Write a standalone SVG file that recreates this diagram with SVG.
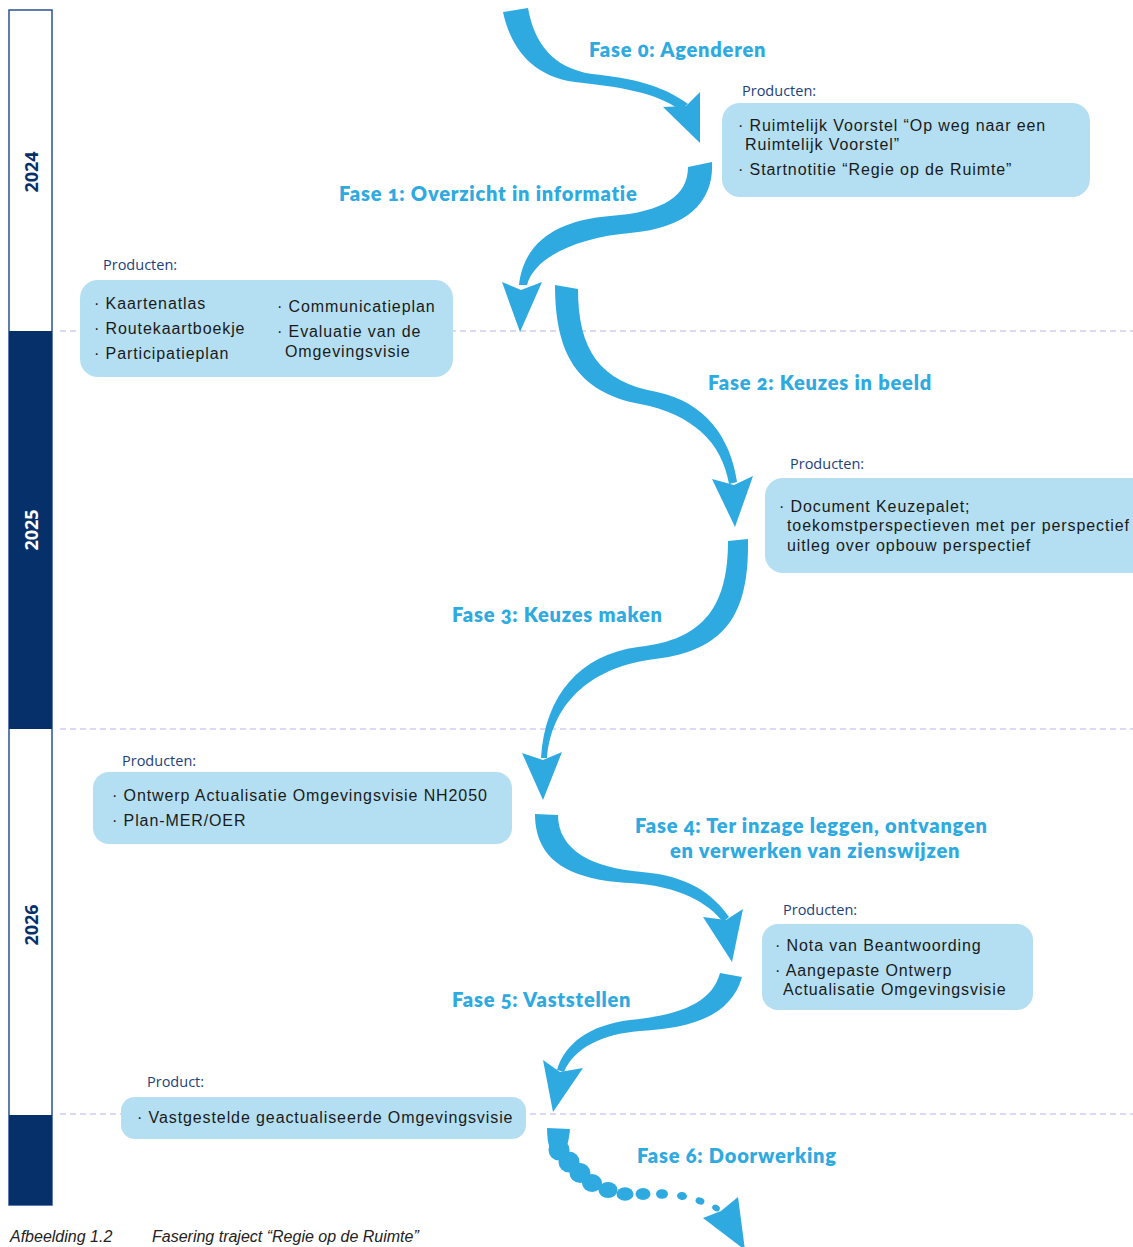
<svg xmlns="http://www.w3.org/2000/svg" width="1133" height="1247" viewBox="0 0 1133 1247">
<style>
.arrow{fill:#2eaae1}
.box{fill:#b4dff2}
.title{font-family:"Lato","Open Sans",sans-serif;font-weight:800;font-size:20px;letter-spacing:0.8px;fill:#2eaae1;font-variant-numeric:oldstyle-nums}
.prod{font-family:"Open Sans","Noto Sans",sans-serif;font-size:14.5px;fill:#1c3f7a}
.item{font-family:"Liberation Sans","Arial",sans-serif;font-size:16px;letter-spacing:0.9px;fill:#1a1a1a}
.year{font-family:"Open Sans","Noto Sans",sans-serif;font-weight:700;font-size:18px}
.grid{stroke:#cfcdef;stroke-width:1.3;stroke-dasharray:6 4;fill:none}
.cap{font-family:"Liberation Sans",sans-serif;font-style:italic;font-size:16px;fill:#222}
</style>

<g id="timeline">
<rect x="9" y="10" width="43" height="1195" fill="#ffffff" stroke="#2b5391" stroke-width="1.5"/>
<rect x="9" y="331" width="43" height="398" fill="#06306a"/>
<rect x="9" y="1115" width="43" height="90" fill="#06306a"/>
<text class="year" fill="#06306a" transform="translate(38,172) rotate(-90)" text-anchor="middle">2024</text>
<text class="year" fill="#ffffff" transform="translate(38,530) rotate(-90)" text-anchor="middle">2025</text>
<text class="year" fill="#06306a" transform="translate(38,925) rotate(-90)" text-anchor="middle">2026</text>
</g>

<g id="gridlines">
<line class="grid" x1="60" y1="331" x2="1133" y2="331"/>
<line class="grid" x1="60" y1="729" x2="1133" y2="729"/>
<line class="grid" x1="60" y1="1114" x2="1133" y2="1114"/>
</g>

<g id="connectors">
<g id="arrow0" class="arrow">
<path d="M503,12 C510,45 530,76 575,82 C620,87 655,92 680,110 L688,104 C662,85 632,78 592,74 C552,68 534,42 528,8 Z"/>
<path d="M663,107 L686,106 L700,92 L700,143 Z"/>
</g>
<g id="arrow1" class="arrow">
<path d="M712,162 C714,200 690,228 630,233 C582,237 535,255 527,285 L519,285 C524,240 560,220 610,216 C665,212 688,195 688,167 Z"/>
<path d="M502,282 L521,290 L542,282 L520,332 Z"/>
</g>
<g id="arrow2" class="arrow">
<path d="M555,285 C555,352 576,392 640,404 C692,414 722,442 729,484 L737,482 C731,438 705,402 657,392 C600,382 578,350 578,289 Z"/>
<path d="M712,479 L734,485 L753,476 L735,527 Z"/>
</g>
<g id="arrow3" class="arrow">
<path d="M748,539 C749,605 733,650 655,659 C595,666 552,700 547,758 L541,758 C545,695 580,655 638,647 C705,640 728,605 728,541 Z"/>
<path d="M522,753 L543,760 L562,752 L543,800 Z"/>
</g>
<g id="arrow4" class="arrow">
<path d="M535,814 C535,862 572,880 630,883 C680,886 708,903 723,922 L729,917 C712,893 688,876 642,872 C592,868 558,850 558,815 Z"/>
<path d="M703,917 L726,920 L743,909 L732,962 Z"/>
</g>
<g id="arrow5" class="arrow">
<path d="M742,977 C731,1016 692,1028 640,1031 C602,1034 574,1048 564,1072 L557,1070 C565,1043 590,1025 630,1020 C680,1015 712,1003 720,973 Z"/>
<path d="M543,1060 L560,1072 L583,1068 L553,1112 Z"/>
</g>
<g id="arrow6" class="arrow">
<path d="M547,1128 L570,1129 C569,1140 567,1148 563,1155 L551,1152 C548,1145 547,1137 547,1128 Z"/>
<circle cx="559" cy="1150" r="10.5"/>
<circle cx="569" cy="1162" r="10.5"/>
<ellipse cx="580" cy="1173" rx="10.5" ry="10"/>
<ellipse cx="592" cy="1183" rx="10" ry="9"/>
<ellipse cx="608" cy="1190" rx="9.5" ry="8"/>
<ellipse cx="625" cy="1194" rx="8.5" ry="6.8"/>
<ellipse cx="643" cy="1194" rx="7.5" ry="6"/>
<ellipse cx="662" cy="1194" rx="6" ry="4.8"/>
<ellipse cx="682" cy="1196" rx="5" ry="4" transform="rotate(8 682 1196)"/>
<ellipse cx="700" cy="1201" rx="4.5" ry="3.5" transform="rotate(18 700 1201)"/>
<ellipse cx="716" cy="1208" rx="4" ry="3" transform="rotate(28 716 1208)"/>
<path d="M703,1218 L721,1211 L738,1197 L745,1250 Z"/>
</g>
</g>

<g id="phase-titles">
<text class="title" x="589" y="57">Fase 0: Agenderen</text>
<text class="title" x="339" y="201">Fase 1: Overzicht in informatie</text>
<text class="title" x="708" y="390">Fase 2: Keuzes in beeld</text>
<text class="title" x="452" y="622">Fase 3: Keuzes maken</text>
<text class="title" x="635" y="833">Fase 4: Ter inzage leggen, ontvangen<tspan x="670" dy="24.5">en verwerken van zienswijzen</tspan></text>
<text class="title" x="452" y="1007">Fase 5: Vaststellen</text>
<text class="title" x="637" y="1163">Fase 6: Doorwerking</text>
</g>

<g id="products0">
<text class="prod" x="742" y="96">Producten:</text>
<rect class="box" x="722" y="103" width="368" height="94" rx="18"/>
<text class="item" x="738" y="131">· Ruimtelijk Voorstel “Op weg naar een<tspan x="745" dy="19">Ruimtelijk Voorstel”</tspan></text>
<text class="item" x="738" y="175">· Startnotitie “Regie op de Ruimte”</text>
</g>

<g id="products1">
<text class="prod" x="103" y="270">Producten:</text>
<rect class="box" x="80" y="280" width="373" height="97" rx="18"/>
<text class="item" x="94" y="309">· Kaartenatlas</text>
<text class="item" x="94" y="334">· Routekaartboekje</text>
<text class="item" x="94" y="359">· Participatieplan</text>
<text class="item" x="277" y="312">· Communicatieplan</text>
<text class="item" x="277" y="337">· Evaluatie van de<tspan x="285" dy="20">Omgevingsvisie</tspan></text>
</g>

<g id="products2">
<text class="prod" x="790" y="469">Producten:</text>
<rect class="box" x="765" y="478" width="390" height="95" rx="18"/>
<text class="item" x="779" y="512">· Document Keuzepalet;<tspan x="787" dy="19">toekomstperspectieven met per perspectief</tspan><tspan x="787" dy="20">uitleg over opbouw perspectief</tspan></text>
</g>

<g id="products3">
<text class="prod" x="122" y="766">Producten:</text>
<rect class="box" x="93" y="772" width="419" height="72" rx="16"/>
<text class="item" x="112" y="801">· Ontwerp Actualisatie Omgevingsvisie NH2050</text>
<text class="item" x="112" y="826">· Plan-MER/OER</text>
</g>

<g id="products4">
<text class="prod" x="783" y="915">Producten:</text>
<rect class="box" x="762" y="924" width="271" height="86" rx="16"/>
<text class="item" x="775" y="951">· Nota van Beantwoording</text>
<text class="item" x="775" y="976">· Aangepaste Ontwerp<tspan x="783" dy="19">Actualisatie Omgevingsvisie</tspan></text>
</g>

<g id="products5">
<text class="prod" x="147" y="1087">Product:</text>
<rect class="box" x="121" y="1097" width="405" height="42" rx="14"/>
<text class="item" x="137" y="1123">· Vastgestelde geactualiseerde Omgevingsvisie</text>
</g>

<g id="caption">
<text class="cap" x="10" y="1242">Afbeelding 1.2</text>
<text class="cap" x="152" y="1242">Fasering traject “Regie op de Ruimte”</text>
</g>
</svg>
